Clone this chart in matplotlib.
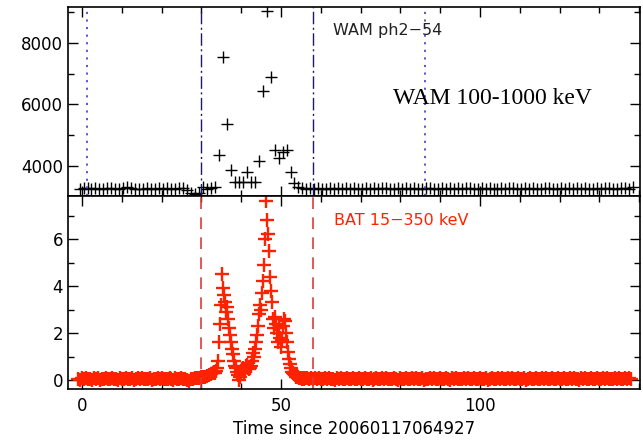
import numpy as np
import matplotlib
matplotlib.use("Agg")
import matplotlib.pyplot as plt
from matplotlib.ticker import MultipleLocator

# ---------------- data ----------------
# WAM ph2-54 counts, 1 s bins starting at t = -0.6 s
wam_start = -0.6
wam_counts = [
    3220, 3280, 3260, 3240, 3270, 3250, 3230, 3260, 3280, 3250,
    3240, 3270, 3290, 3260, 3250, 3230, 3250, 3260, 3240, 3250,
    3270, 3250, 3260, 3240, 3250, 3280, 3270, 3200, 3120, 3080,
    3100, 3290, 3230, 3260, 3300, 4350, 7530, 5350, 3860, 3450,
    3450, 3450, 3780, 3450, 3450, 4140, 6420, 9030, 6900, 4500,
    4250, 4450, 4520, 3780, 3420, 3300,
    3270, 3250, 3260, 3240, 3280, 3250, 3230, 3260, 3250, 3270,
    3240, 3260, 3250, 3280, 3230, 3250, 3270, 3240, 3260, 3250,
    3280, 3260, 3240, 3250, 3270, 3230, 3260, 3250, 3280, 3240,
    3250, 3270, 3260, 3230, 3250, 3280, 3240, 3260, 3250, 3270,
    3230, 3260, 3280, 3250, 3240, 3270, 3250, 3260, 3230, 3250,
    3280, 3240, 3260, 3270, 3250, 3230, 3260, 3250, 3280, 3240,
    3250, 3260, 3270, 3240, 3250, 3280, 3230, 3260, 3250, 3270,
    3240, 3260, 3250, 3230, 3270, 3250, 3260, 3280, 3240, 3250,
    3260, 3270, 3250, 3300,
]

# BAT 15-350 keV rate: pre-burst (0.5 s bins from -1.0 s)
bat_pre_start, bat_pre_step = -1.0, 0.5
bat_pre = [
    0.05, 0.02, 0.08, 0.04, 0.10, 0.03, 0.06, 0.01, 0.07, 0.05,
    0.09, 0.02, 0.06, 0.04, 0.08, 0.03, 0.05, 0.10, 0.04, 0.06,
    0.02, 0.07, 0.05, 0.03, 0.09, 0.04, 0.06, 0.08, 0.02, 0.05,
    0.07, 0.04, 0.10, 0.03, 0.06, 0.05, 0.08, 0.02, 0.06, 0.04,
    0.07, 0.05, 0.09, 0.03, 0.06, 0.04, 0.08, 0.05, 0.02, 0.07,
    0.04, 0.06, 0.10, 0.03, 0.05, 0.01, -0.02, 0.04, 0.06, 0.08,
    0.07, 0.10, 0.12, 0.15, 0.14, 0.18, 0.22, 0.25,
]
# burst (0.25 s bins from 33.0 s)
bat_burst_start, bat_burst_step = 33.0, 0.25
bat_burst = [
    0.30, 0.35, 0.30, 0.40, 0.50, 0.80, 1.60, 2.40, 3.20, 4.50,
    3.90, 3.60, 3.30, 2.90, 3.10, 2.60, 2.20, 1.90, 1.60, 1.30,
    1.10, 0.80, 0.60, 0.50, 0.35, 0.20, 0.00, 0.15, 0.30, 0.45,
    0.50, 0.35, 0.45, 0.60, 0.65, 0.50, 0.45, 0.50, 0.60, 0.80,
    1.15, 1.00, 1.30, 1.60, 1.90, 2.30, 2.80, 3.20, 3.00, 3.70,
    4.20, 4.90, 6.00, 7.60, 6.80, 6.20, 5.50, 4.40, 3.80, 3.30,
    2.60, 2.20, 2.70, 2.40, 2.00, 1.60, 2.20, 1.80, 1.40, 1.70,
    2.30, 2.60, 2.50, 2.00, 1.60, 1.20, 0.90, 0.70, 0.50, 0.35,
    0.30, 0.25, 0.20, 0.15, 0.20, 0.12, 0.10, 0.08, 0.10, 0.06,
    0.08, 0.05,
]
# post-burst (0.5 s bins from 56.0 s)
bat_post_start, bat_post_step = 56.0, 0.5
bat_post = [
    0.10, 0.08, 0.06, 0.09, 0.05, 0.07, 0.04, 0.08, 0.06, 0.03,
    0.07, 0.05, 0.09, 0.04, 0.06, 0.02, 0.08, 0.05, 0.07, 0.04,
    0.06, 0.09, 0.03, 0.05, 0.08, 0.04, 0.06, 0.10, 0.05, 0.03,
    0.07, 0.04, 0.06, 0.08, 0.02, 0.05, 0.09, 0.04, 0.06, 0.07,
    0.03, 0.08, 0.05, 0.06, 0.04, 0.09, 0.05, 0.02, 0.07, 0.06,
    0.04, 0.08, 0.05, 0.03, 0.07, 0.06, 0.09, 0.04, 0.05, 0.08,
    0.02, 0.06, 0.05, 0.09, 0.04, 0.07, 0.03, 0.06, 0.08, 0.05,
    0.04, 0.07, 0.06, 0.02, 0.08, 0.05, 0.09, 0.04, 0.06, 0.03,
    0.07, 0.05, 0.08, 0.04, 0.06, 0.10, 0.03, 0.05, 0.07, 0.04,
    0.06, 0.08, 0.02, 0.05, 0.09, 0.04, 0.06, 0.07, 0.03, 0.08,
    0.05, 0.04, 0.07, 0.06, 0.09, 0.03, 0.05, 0.08, 0.04, 0.06,
    0.07, 0.02, 0.05, 0.08, 0.06, 0.04, 0.09, 0.05, 0.03, 0.07,
    0.06, 0.08, 0.04, 0.05, 0.07, 0.03, 0.06, 0.09, 0.05, 0.04,
    0.08, 0.06, 0.03, 0.07, 0.05, 0.09, 0.04, 0.06, 0.02, 0.08,
    0.05, 0.07, 0.04, 0.06, 0.08, 0.03, 0.05, 0.09, 0.06, 0.04,
    0.07, 0.05, 0.08, 0.03, 0.06, 0.04, 0.09, 0.05, 0.07, 0.06,
    0.04, 0.08, 0.05, 0.07, 0.03,
]

wam_dotted_lines = [1.3, 86.2]
wam_dashdot_lines = [29.9, 58.0]
bat_dashed_lines = [29.9, 58.0]

x_label = "Time since 20060117064927"
wam_label = "WAM ph2\u221254"
wam_note = "WAM 100-1000 keV"
bat_label = "BAT 15\u2212350 keV"

# ---------------- figure ----------------
W, H, DPI = 643, 441, 100
fig = plt.figure(figsize=(W / DPI, H / DPI), dpi=DPI)
plt.rcParams['font.family'] = ['DejaVu Sans']

left, right = 68 / W, 640 / W
y_top, y_mid, y_bot = 6.7 / H, 196.5 / H, 388.5 / H
ax1 = fig.add_axes([left, 1 - y_mid, right - left, y_mid - y_top])
ax2 = fig.add_axes([left, 1 - y_bot, right - left, y_bot - y_mid], sharex=ax1)

red = '#ff2200'
wam_t = wam_start + np.arange(len(wam_counts))
ax1.plot(wam_t, wam_counts, linestyle='none', marker='+', markersize=8.8,
         markeredgewidth=1.0, color='black')

for arr, st, stp in [(bat_pre, bat_pre_start, bat_pre_step),
                     (bat_burst, bat_burst_start, bat_burst_step),
                     (bat_post, bat_post_start, bat_post_step)]:
    t = st + stp * np.arange(len(arr))
    ax2.plot(t, arr, linestyle='none', marker='+', markersize=9.5,
             markeredgewidth=1.7, color=red)

for x in wam_dotted_lines:
    ax1.axvline(x, color='#4a4ac8', linestyle=(0, (1.2, 3.0)), linewidth=1.3)
for x in wam_dashdot_lines:
    ax1.axvline(x, color='#1c1c66', linestyle=(0, (9, 2.5, 1.5, 2.5)), linewidth=1.0)
for x in bat_dashed_lines:
    ax2.axvline(x, color='#e03a3a', linestyle=(0, (7, 5)), linewidth=1.2)

ax1.set_xlim(-3.5, 140.2)
ax1.set_ylim(2990, 9180)
ax2.set_ylim(-0.36, 7.81)

for ax in (ax1, ax2):
    ax.xaxis.set_major_locator(MultipleLocator(50))
    ax.xaxis.set_minor_locator(MultipleLocator(10))
    ax.tick_params(which='both', direction='in', top=True, right=True,
                   labelsize=12, width=1.0, colors='black')
    ax.tick_params(which='major', length=7)
    ax.tick_params(which='minor', length=4)
    for s in ax.spines.values():
        s.set_linewidth(1.2)

ax1.yaxis.set_major_locator(MultipleLocator(2000))
ax1.yaxis.set_minor_locator(MultipleLocator(1000))
ax2.yaxis.set_major_locator(MultipleLocator(2))
ax2.yaxis.set_minor_locator(MultipleLocator(1))
ax1.tick_params(labelbottom=False)
ax1.yaxis.set_major_formatter(matplotlib.ticker.FuncFormatter(lambda v, p: f"{v:.0f}"))
ax2.yaxis.set_major_formatter(matplotlib.ticker.FuncFormatter(lambda v, p: f"{v:.0f}"))
ax2.tick_params(axis='x', pad=6)

ax2.set_xlabel(x_label, fontsize=12, labelpad=4)

ax1.text(333 / W, 1 - 31 / H, wam_label, transform=fig.transFigure,
         fontsize=11.5, color='#222222', va='center', ha='left')
ax1.text(393 / W, 1 - 98 / H, wam_note, transform=fig.transFigure,
         fontsize=17, color='black', va='center', ha='left',
         family=['Liberation Serif'])
ax2.text(334 / W, 1 - 221 / H, bat_label, transform=fig.transFigure,
         fontsize=11.5, color=red, va='center', ha='left')

fig.savefig('out.png', dpi=DPI)
